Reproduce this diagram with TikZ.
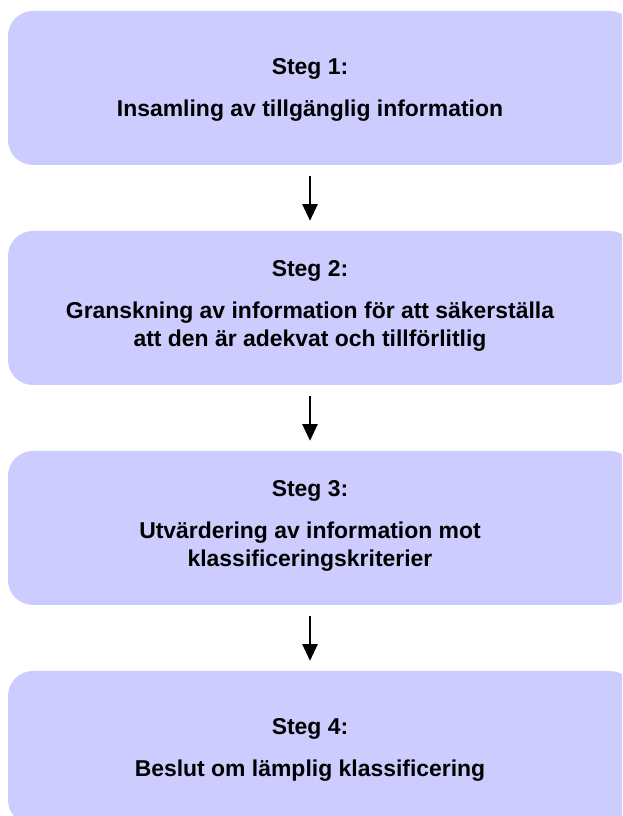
\documentclass[tikz,border=0pt]{standalone}
\usepackage{fontspec}
\setmainfont{Liberation Sans}
\definecolor{boxfill}{RGB}{204,204,255}
\usetikzlibrary{arrows.meta,calc}
\tikzstyle{stepbox}=[rectangle,rounded corners=18.75pt,fill=boxfill,minimum width=470.25pt,minimum height=115.5pt,inner sep=0pt]
\tikzstyle{steptext}=[align=center,inner sep=0pt,font=\fontsize{17.2pt}{21pt}\selectfont\bfseries]
\tikzstyle{flow} = [draw,line width=1.1pt,-{Triangle[width=11.5pt,length=12.5pt]},shorten <=8.25pt,shorten >=7.5pt]

\begin{document}
\begin{tikzpicture}[x=0.75pt,y=0.75pt]

            \clip (0,0) rectangle (622,816);

            \node[stepbox] (b1) at (321.5,728) {};
            \node[stepbox] (b2) at (321.5,508) {};
            \node[stepbox] (b3) at (321.5,288) {};
            \node[stepbox] (b4) at (321.5,68) {};

            \node[steptext] (t1) at (310,726) {Steg 1:\\[10.5pt]Insamling av tillgänglig information};
            \node[steptext] (t2) at (310,510) {Steg 2:\\[10.5pt]Granskning av information för att säkerställa\\att den är adekvat och tillförlitlig};
            \node[steptext] (t3) at (310,290) {Steg 3:\\[10.5pt]Utvärdering av information mot\\klassificeringskriterier};
            \node[steptext] (t4) at (310,66) {Steg 4:\\[10.5pt]Beslut om lämplig klassificering};

            \path[flow] (b1.south -| t1) -- (b2.north -| t2);
            \path[flow] (b2.south -| t2) -- (b3.north -| t3);
            \path[flow] (b3.south -| t3) -- (b4.north -| t4);

        \end{tikzpicture}
\end{document}
